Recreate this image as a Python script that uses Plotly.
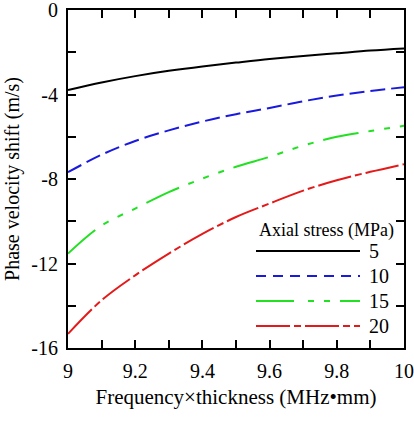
import plotly.graph_objects as go

x = [9.0, 9.1, 9.2, 9.3, 9.4, 9.5, 9.6, 9.7, 9.8, 9.9, 10.0]
s5 = [-3.79, -3.43, -3.13, -2.88, -2.67, -2.49, -2.32, -2.18, -2.05, -1.92, -1.82]
s10 = [-7.68, -6.85, -6.20, -5.70, -5.28, -4.93, -4.64, -4.32, -4.05, -3.83, -3.66]
s15 = [-11.53, -10.2, -9.40, -8.62, -7.98, -7.42, -6.95, -6.42, -6.00, -5.73, -5.48]
s20 = [-15.33, -13.74, -12.56, -11.53, -10.60, -9.80, -9.16, -8.55, -8.06, -7.66, -7.30]
labels = ["5", "10", "15", "20"]
legend_title = "Axial stress (MPa)"

x_tickvals = [9.0, 9.1, 9.2, 9.3, 9.4, 9.5, 9.6, 9.7, 9.8, 9.9, 10.0]
x_ticktext = ["9", "", "9.2", "", "9.4", "", "9.6", "", "9.8", "", "10"]
y_tickvals = [0, -2, -4, -6, -8, -10, -12, -14, -16]
y_ticktext = ["0", "", "-4", "", "-8", "", "-12", "", "-16"]

series = [s5, s10, s15, s20]
colors = ["#000000", "#1a1adf", "#22e022", "#e41a1a"]
dashes = ["solid", "15px,6px", "36px,10px,6px,10px,6px,10px,6px,10px", "34px,4px,7px,4px"]
legend_dashes = ["solid", "10px,7px", "38px,14px,6px,10px,6px,10px", "34px,4px,7px,4px"]

FONT = "'Liberation Serif', serif"
fig = go.Figure()
for ys, c, d, lab in zip(series, colors, dashes, labels):
    fig.add_trace(go.Scatter(x=x, y=ys, mode="lines", name=lab,
                             line=dict(color=c, width=2, dash=d, shape="spline"),
                             showlegend=False))

W, H = 414, 424
ml, mr, mt, mb = 68, 10, 10, 76
pw, ph = W - ml - mr, H - mt - mb

def px(xp):
    return (xp - ml) / pw

def py(yp):
    return 1 - (yp - mt) / ph

shapes = []
annotations = [dict(x=px(257), y=py(230), xref="paper", yref="paper", text=legend_title,
                    showarrow=False, xanchor="left", yanchor="middle",
                    font=dict(family=FONT, size=18, color="black"))]
for i, (c, d, lab) in enumerate(zip(colors, legend_dashes, labels)):
    yp = 251 + i * 25
    shapes.append(dict(type="line", xref="paper", yref="paper", x0=px(256), x1=px(360),
                       y0=py(yp), y1=py(yp), line=dict(color=c, width=2, dash=d)))
    annotations.append(dict(x=px(367), y=py(yp), xref="paper", yref="paper", text=lab,
                            showarrow=False, xanchor="left", yanchor="middle",
                            font=dict(family=FONT, size=20, color="black")))

fig.update_layout(
    width=W, height=H,
    margin=dict(l=ml, r=mr, t=mt, b=mb),
    paper_bgcolor="white", plot_bgcolor="white",
    font=dict(family=FONT, size=20, color="black"),
    shapes=shapes, annotations=annotations,
)
fig.update_xaxes(range=[9, 10], tickvals=x_tickvals, ticktext=x_ticktext,
                 ticks="inside", ticklen=8, tickwidth=2, tickcolor="black",
                 showline=True, linewidth=2, linecolor="black", mirror="ticks",
                 showgrid=False, zeroline=False, tickfont=dict(family=FONT, size=20),
                 ticklabelstandoff=4, automargin=False, ticklabeloverflow="allow",
                 title=dict(text="Frequency×thickness (MHz•mm)", standoff=8,
                            font=dict(family=FONT, size=21)))
fig.update_yaxes(range=[-16, 0], tickvals=y_tickvals, ticktext=y_ticktext,
                 ticks="inside", ticklen=8, tickwidth=2, tickcolor="black",
                 showline=True, linewidth=2, linecolor="black", mirror="ticks",
                 showgrid=False, zeroline=False, tickfont=dict(family=FONT, size=20),
                 ticklabelstandoff=4, automargin=False, ticklabeloverflow="allow",
                 title=dict(text="Phase velocity shift (m/s)", standoff=6,
                            font=dict(family=FONT, size=20)))

fig.write_html("out.html")
